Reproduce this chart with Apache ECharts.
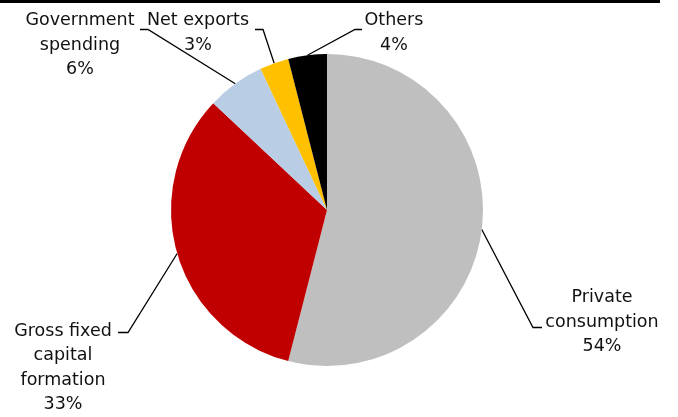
<!DOCTYPE html>
<html>
<head>
<meta charset="utf-8">
<script src="https://cdn.jsdelivr.net/npm/echarts@6/dist/echarts.min.js"></script>
<style>
  html, body { margin: 0; padding: 0; background: #fff; }
  #chart { width: 678px; height: 417px; }
</style>
</head>
<body>
<div id="chart"></div>
<script>
// GDP composition by expenditure component (share, %)
const categories = [
  'Private\nconsumption',
  'Gross fixed\ncapital\nformation',
  'Government\nspending',
  'Net exports',
  'Others'
];
const shares = [54, 33, 6, 3, 4];
const colors = ['#BFBFBF', '#C00000', '#B9CDE5', '#FFC000', '#000000'];

// Where each label block sits and where its leader line bends/ends
const labelPlacement = [
  { x: 602, y: 322, bend: [533, 327.5], end: [542, 327.5] },
  { x: 63,  y: 368, bend: [128, 332.5], end: [118, 332.5] },
  { x: 80,  y: 45,  bend: [148, 29.5],  end: [140, 29.5] },
  { x: 198, y: 33,  bend: [263, 29.5],  end: [255, 29.5] },
  { x: 394, y: 33,  bend: [355, 29.5],  end: [362, 29.5] }
];

const chart = echarts.init(document.getElementById('chart'), null, { renderer: 'canvas' });

chart.setOption({
  animation: false,
  backgroundColor: '#ffffff',
  graphic: [{
    type: 'rect',
    shape: { x: 0, y: 0, width: 660, height: 3 },
    style: { fill: '#000000' },
    silent: true
  }],
  series: [{
    type: 'pie',
    center: [327, 210],
    radius: 156,
    startAngle: 90,
    clockwise: true,
    silent: true,
    data: categories.map((name, i) => ({
      name: name,
      value: shares[i],
      itemStyle: { color: colors[i] }
    })),
    label: {
      show: true,
      position: 'outside',
      formatter: p => p.name + '\n' + p.value + '%',
      fontFamily: 'DejaVu Sans',
      fontSize: 17.5,
      lineHeight: 24.5,
      color: '#111111',
      align: 'center'
    },
    labelLine: {
      show: true,
      length: 10,
      length2: 10,
      lineStyle: { color: '#000000', width: 1.3 }
    },
    labelLayout: function (params) {
      const p = labelPlacement[params.dataIndex];
      const start = params.labelLinePoints ? params.labelLinePoints[0] : p.bend;
      return {
        x: p.x,
        y: p.y,
        align: 'center',
        verticalAlign: 'middle',
        labelLinePoints: [start, p.bend, p.end]
      };
    }
  }]
});
</script>
</body>
</html>
